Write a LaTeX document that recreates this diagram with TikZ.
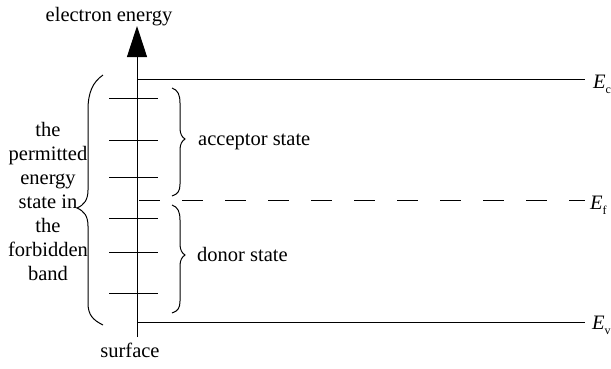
\documentclass[tikz,border=0pt]{standalone}
\usepackage{fontspec}
\setmainfont{Liberation Serif}
\usetikzlibrary{arrows.meta}
\tikzset{
  lbl/.style={inner sep=0pt, font=\fontsize{20.5}{24}\selectfont},
  lineband/.style={line width=1pt, draw=black},
  tick/.style={line width=1pt},
  bracepath/.style={line width=1pt},
}
\newcommand{\Elab}[1]{{\itshape E}\raisebox{-0.28em}{\fontsize{12}{12}\selectfont #1}}
\begin{document}
\begin{tikzpicture}[x=1pt,y=-1pt]
\useasboundingbox (0,0) rectangle (611,368);
% axis
\coordinate (axbot) at (137,337);
\coordinate (axtop) at (137,26);
\draw[line width=1pt,-{Triangle[length=31pt,width=20pt]}] (axbot) -- (axtop);
\node[lbl,anchor=base] (title) at (109,21) {electron energy};
\node[lbl,anchor=base] (surf) at (130,357) {surface};
% bands
\coordinate (ec0) at (137,79); \coordinate (ec1) at (585,79);
\coordinate (ef0) at (139,200); \coordinate (ef1) at (585,200);
\coordinate (ev0) at (137,322); \coordinate (ev1) at (585,322);
\draw[lineband] (ec0) -- (ec1);
\draw[lineband, dash pattern=on 21pt off 22pt] (ef0) -- (ef1);
\draw[lineband] (ev0) -- (ev1);
\node[lbl,anchor=base west] (Ec) at (593,88) {\Elab{c}};
\node[lbl,anchor=base west] (Ef) at (590,209) {\Elab{f}};
\node[lbl,anchor=base west] (Ev) at (592,329) {\Elab{v}};
% ticks
\foreach \y in {98,140,177,218,252,293}{
  \draw[tick] (109,\y) -- (158,\y);
}
% left brace
\draw[bracepath] (103,75) .. controls (93,82) and (88,92) .. (88,110) -- (88,190)
  .. controls (88,200) and (84,205) .. (77,208)
  .. controls (84,211) and (88,216) .. (88,226) -- (88,303)
  .. controls (88,315) and (93,320) .. (103,325);
% acceptor brace
\draw[bracepath] (172,88) .. controls (178,90) and (180,95) .. (180,103) -- (180,128)
  .. controls (180,134) and (182,137) .. (185,139)
  .. controls (182,141) and (180,144) .. (180,150) -- (180,184)
  .. controls (180,191) and (178,194) .. (172,196);
% donor brace
\draw[bracepath] (172,205) .. controls (178,207) and (180,212) .. (180,220) -- (180,244)
  .. controls (180,250) and (182,253) .. (185,255)
  .. controls (182,257) and (180,260) .. (180,266) -- (180,301)
  .. controls (180,308) and (178,311) .. (172,313);
\node[lbl,anchor=base west] (acc) at (198,145) {acceptor state};
\node[lbl,anchor=base west] (don) at (197,261) {donor state};
\node[lbl,anchor=north,align=center] (perm) at (48,122) {the\\permitted\\energy\\state in\\the\\forbidden\\band};
\end{tikzpicture}
\end{document}
